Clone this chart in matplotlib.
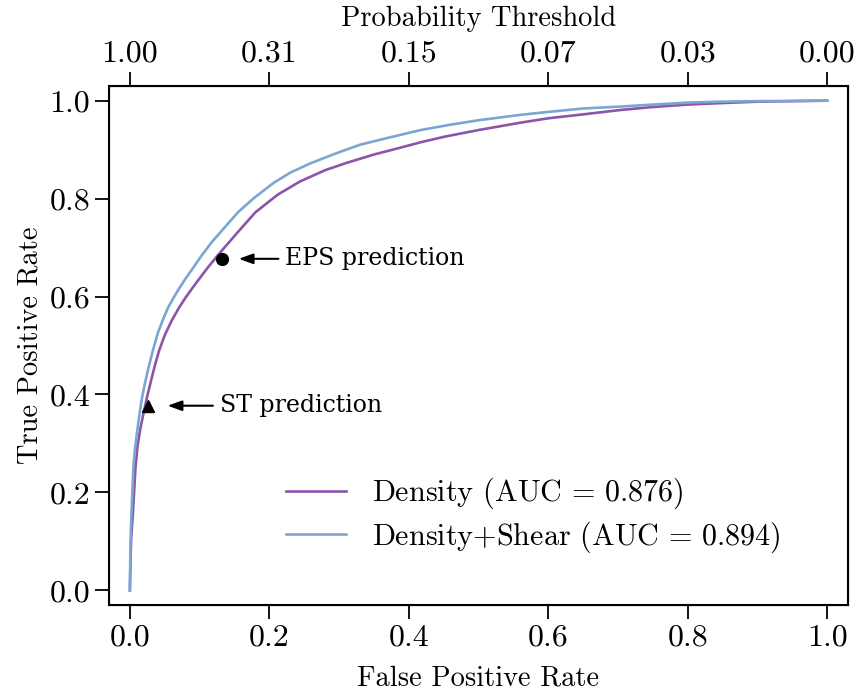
import matplotlib
matplotlib.use('Agg')
import matplotlib.pyplot as plt

# ROC curves
fpr_density = [0, 0.001, 0.002, 0.004, 0.006, 0.008, 0.011, 0.015, 0.020, 0.025, 0.031,
               0.036, 0.042, 0.050, 0.060, 0.070, 0.079, 0.090, 0.100, 0.110, 0.122, 0.135,
               0.157, 0.180, 0.212, 0.244, 0.280, 0.311, 0.350, 0.388, 0.417, 0.45, 0.50,
               0.56, 0.60, 0.65, 0.704, 0.75, 0.80, 0.848, 0.90, 0.95, 1.0]
tpr_density = [0, 0.07, 0.11, 0.15, 0.20, 0.25, 0.295, 0.33, 0.365, 0.397, 0.432,
               0.46, 0.49, 0.521, 0.551, 0.576, 0.596, 0.618, 0.637, 0.656, 0.677, 0.699,
               0.735, 0.772, 0.808, 0.835, 0.858, 0.873, 0.890, 0.904, 0.915, 0.926, 0.940,
               0.955, 0.964, 0.972, 0.981, 0.987, 0.992, 0.995, 0.998, 0.999, 1.0]

fpr_shear = [0, 0.0005, 0.001, 0.002, 0.0035, 0.005, 0.007, 0.010, 0.013, 0.017, 0.020,
             0.024, 0.028, 0.033, 0.040, 0.048, 0.055, 0.062, 0.070, 0.080, 0.090, 0.103,
             0.118, 0.134, 0.155, 0.177, 0.206, 0.230, 0.259, 0.295, 0.330, 0.37, 0.417,
             0.46, 0.50, 0.56, 0.60, 0.65, 0.704, 0.75, 0.80, 0.848, 0.90, 1.0]
tpr_shear = [0, 0.06, 0.10, 0.148, 0.20, 0.25, 0.285, 0.32, 0.352, 0.39, 0.412,
             0.438, 0.462, 0.49, 0.525, 0.555, 0.578, 0.596, 0.615, 0.637, 0.657, 0.684,
             0.712, 0.738, 0.772, 0.800, 0.832, 0.853, 0.872, 0.892, 0.910, 0.924, 0.940,
             0.951, 0.960, 0.971, 0.977, 0.984, 0.988, 0.992, 0.996, 0.998, 0.999, 1.0]

auc_density = 0.876
auc_shear = 0.894

eps_point = (0.132, 0.677)
st_point = (0.026, 0.377)

fpr_ticks = [0.0, 0.2, 0.4, 0.6, 0.8, 1.0]
threshold_labels = ['1.00', '0.31', '0.15', '0.07', '0.03', '0.00']

plt.rcParams['font.family'] = 'serif'
plt.rcParams['font.serif'] = ['cmr10']
plt.rcParams['mathtext.fontset'] = 'cm'
plt.rcParams['axes.formatter.use_mathtext'] = True
plt.rcParams['axes.unicode_minus'] = False

fig = plt.figure(figsize=(8.56, 6.95), dpi=100)
ax = fig.add_axes([0.1273, 0.1295, 0.8634, 0.7468])

ax.plot(fpr_density, tpr_density, color='#8B55A8', lw=1.9,
        label=r'Density $(\mathrm{AUC}\,=\,%.3f)$' % auc_density)
ax.plot(fpr_shear, tpr_shear, color='#7BA6D3', lw=1.9,
        label=r'Density+Shear $(\mathrm{AUC}\,=\,%.3f)$' % auc_shear)

ax.plot(*eps_point, 'o', color='black', ms=8.5)
ax.plot(*st_point, '^', color='black', ms=8)

arrow = dict(arrowstyle='-|>,head_length=0.5,head_width=0.18', color='black', lw=1.5,
             shrinkA=3, shrinkB=0)
ax.annotate('EPS prediction', xy=(eps_point[0] + 0.024, eps_point[1]),
            xytext=(0.223, eps_point[1]), va='center', family='DejaVu Serif', fontsize=17,
            arrowprops=arrow)
ax.annotate('ST prediction', xy=(st_point[0] + 0.028, st_point[1]),
            xytext=(0.129, st_point[1]), va='center', family='DejaVu Serif', fontsize=17,
            arrowprops=arrow)

ax.set_xlim(-0.03, 1.03)
ax.set_ylim(-0.03, 1.03)
ax.set_xticks(fpr_ticks)
ax.set_yticks([0.0, 0.2, 0.4, 0.6, 0.8, 1.0])
ax.set_xticklabels(['0.0', '0.2', '0.4', '0.6', '0.8', '1.0'])
ax.set_yticklabels(['0.0', '0.2', '0.4', '0.6', '0.8', '1.0'])
ax.tick_params(labelsize=23, length=10, width=1.3)
ax.set_xlabel('False Positive Rate', fontsize=20.5, labelpad=10)
ax.set_ylabel('True Positive Rate', fontsize=20.5, labelpad=4)
for s in ax.spines.values():
    s.set_linewidth(1.5)

top = ax.twiny()
top.set_xlim(ax.get_xlim())
top.set_xticks(fpr_ticks)
top.set_xticklabels(threshold_labels)
top.tick_params(labelsize=23, length=10, width=1.3)
top.set_xlabel('Probability Threshold', fontsize=20.5, labelpad=10)

ax.legend(loc='lower right', fontsize=21.7, frameon=False, bbox_to_anchor=(0.945, 0.045),
          handlelength=2.0, handletextpad=0.85, labelspacing=0.25)

fig.savefig('out.png', dpi=100)
